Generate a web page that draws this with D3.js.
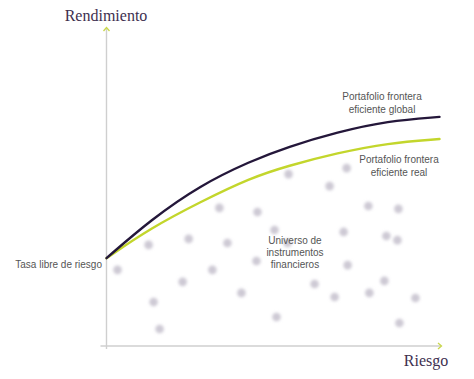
<!DOCTYPE html>
<html><head><meta charset="utf-8">
<script src="https://cdn.jsdelivr.net/npm/d3@7"></script>
<style>body{margin:0;background:#fff}svg{display:block}</style>
</head><body>
<svg id="c" width="474" height="379"></svg>
<script>
// Efficient frontier curves (risk, return)
const globalRisk   = [0, 1.32, 2.81, 4.31, 5.42, 6.92, 8.41, 9.97];
const globalReturn = [2.78, 3.99, 5.09, 5.85, 6.30, 6.77, 7.12, 7.25];
const realRisk     = [0, 1.32, 2.81, 4.31, 5.42, 6.92, 8.41, 9.97];
const realReturn   = [2.78, 3.73, 4.56, 5.32, 5.70, 6.11, 6.42, 6.55];
// Universe of instruments (risk, return)
const assetRisk   = [3.38,4.52,1.26,2.46,3.62,5.03,0.33,3.17,4.49,2.28,4.04,1.41,5.09,1.59,5.45,7.19,6.68,7.84,8.74,7.10,8.38,8.71,5.42,7.22,6.23,8.32,6.83,7.87,9.25,8.77];
const assetReturn = [4.37,4.24,3.20,3.39,3.26,3.67,2.41,2.41,2.69,2.03,1.68,1.39,0.92,0.54,5.44,5.63,5.06,4.43,4.34,3.61,3.48,3.35,3.26,2.56,1.96,2.06,1.55,1.68,1.52,0.73];
const labels = {
  yAxis: "Rendimiento", xAxis: "Riesgo",
  riskFree: "Tasa libre de riesgo",
  global: ["Portafolio frontera", "eficiente global"],
  real: ["Portafolio frontera", "eficiente real"],
  universe: ["Universo de", "instrumentos", "financieros"]
};

const svg = d3.select("#c");
const x = d3.scaleLinear().domain([0, 10]).range([106.5, 440.5]);
const y = d3.scaleLinear().domain([0, 10]).range([346, 30]);

const defs = svg.append("defs");
defs.append("filter").attr("id","blur").attr("x","-50%").attr("y","-50%").attr("width","200%").attr("height","200%")
  .append("feGaussianBlur").attr("stdDeviation", 1.8);

// axes
const axisCol = "#cfcfcf";
svg.append("line").attr("x1", x(0)).attr("x2", x(0)).attr("y1", 29).attr("y2", 349)
  .attr("stroke", axisCol).attr("stroke-width", 1.4);
svg.append("line").attr("x1", 100.5).attr("x2", 441).attr("y1", y(0)).attr("y2", y(0))
  .attr("stroke", axisCol).attr("stroke-width", 1.4);
const arrowCol = "#c9d74a";
svg.append("path").attr("d", `M${x(0)-3},${31} L${x(0)},${27.5} L${x(0)+3},${31}`)
  .attr("fill","none").attr("stroke", arrowCol).attr("stroke-width", 1.3);
svg.append("path").attr("d", `M${438},${y(0)-3} L${441.5},${y(0)} L${438},${y(0)+3}`)
  .attr("fill","none").attr("stroke", arrowCol).attr("stroke-width", 1.3);

// dots
svg.append("g").selectAll("circle").data(assetRisk.map((r,i)=>[r, assetReturn[i]])).join("circle")
  .attr("cx", d => x(d[0])).attr("cy", d => y(d[1])).attr("r", 4.3)
  .attr("fill", "#cdc9d4").attr("filter", "url(#blur)");

// curves
const line = d3.line().x(d => x(d[0])).y(d => y(d[1])).curve(d3.curveBasis);
svg.append("path").datum(realRisk.map((r,i)=>[r, realReturn[i]]))
  .attr("d", line).attr("fill","none").attr("stroke","#c3d62c").attr("stroke-width", 2.4).attr("stroke-linecap","round");
svg.append("path").datum(globalRisk.map((r,i)=>[r, globalReturn[i]]))
  .attr("d", line).attr("fill","none").attr("stroke","#24173a").attr("stroke-width", 2.4).attr("stroke-linecap","round");

// texts
const sans = "Liberation Sans, Arial, sans-serif";
const serif = "Liberation Serif, DejaVu Serif, serif";
svg.append("text").attr("x", 106).attr("y", 21).attr("text-anchor","middle")
  .attr("font-family", serif).attr("font-size", 16).attr("fill", "#3e3050").text(labels.yAxis);
svg.append("text").attr("x", 426).attr("y", 366).attr("text-anchor","middle")
  .attr("font-family", serif).attr("font-size", 16).attr("fill", "#3e3050").text(labels.xAxis);
svg.append("text").attr("x", 102).attr("y", 268).attr("text-anchor","end")
  .attr("font-family", sans).attr("font-size", 10).attr("fill", "#555").text(labels.riskFree);

function block(lines, cx, cy0, lh){
  const t = svg.append("text").attr("font-family", sans).attr("font-size", 10).attr("fill", "#555").attr("text-anchor","middle");
  lines.forEach((l,i)=> t.append("tspan").attr("x", cx).attr("y", cy0 + i*lh).text(l));
}
block(labels.global, 382, 100, 13);
block(labels.real, 399, 163, 12.5);
block(labels.universe, 295, 244, 12);
</script>
</body></html>
